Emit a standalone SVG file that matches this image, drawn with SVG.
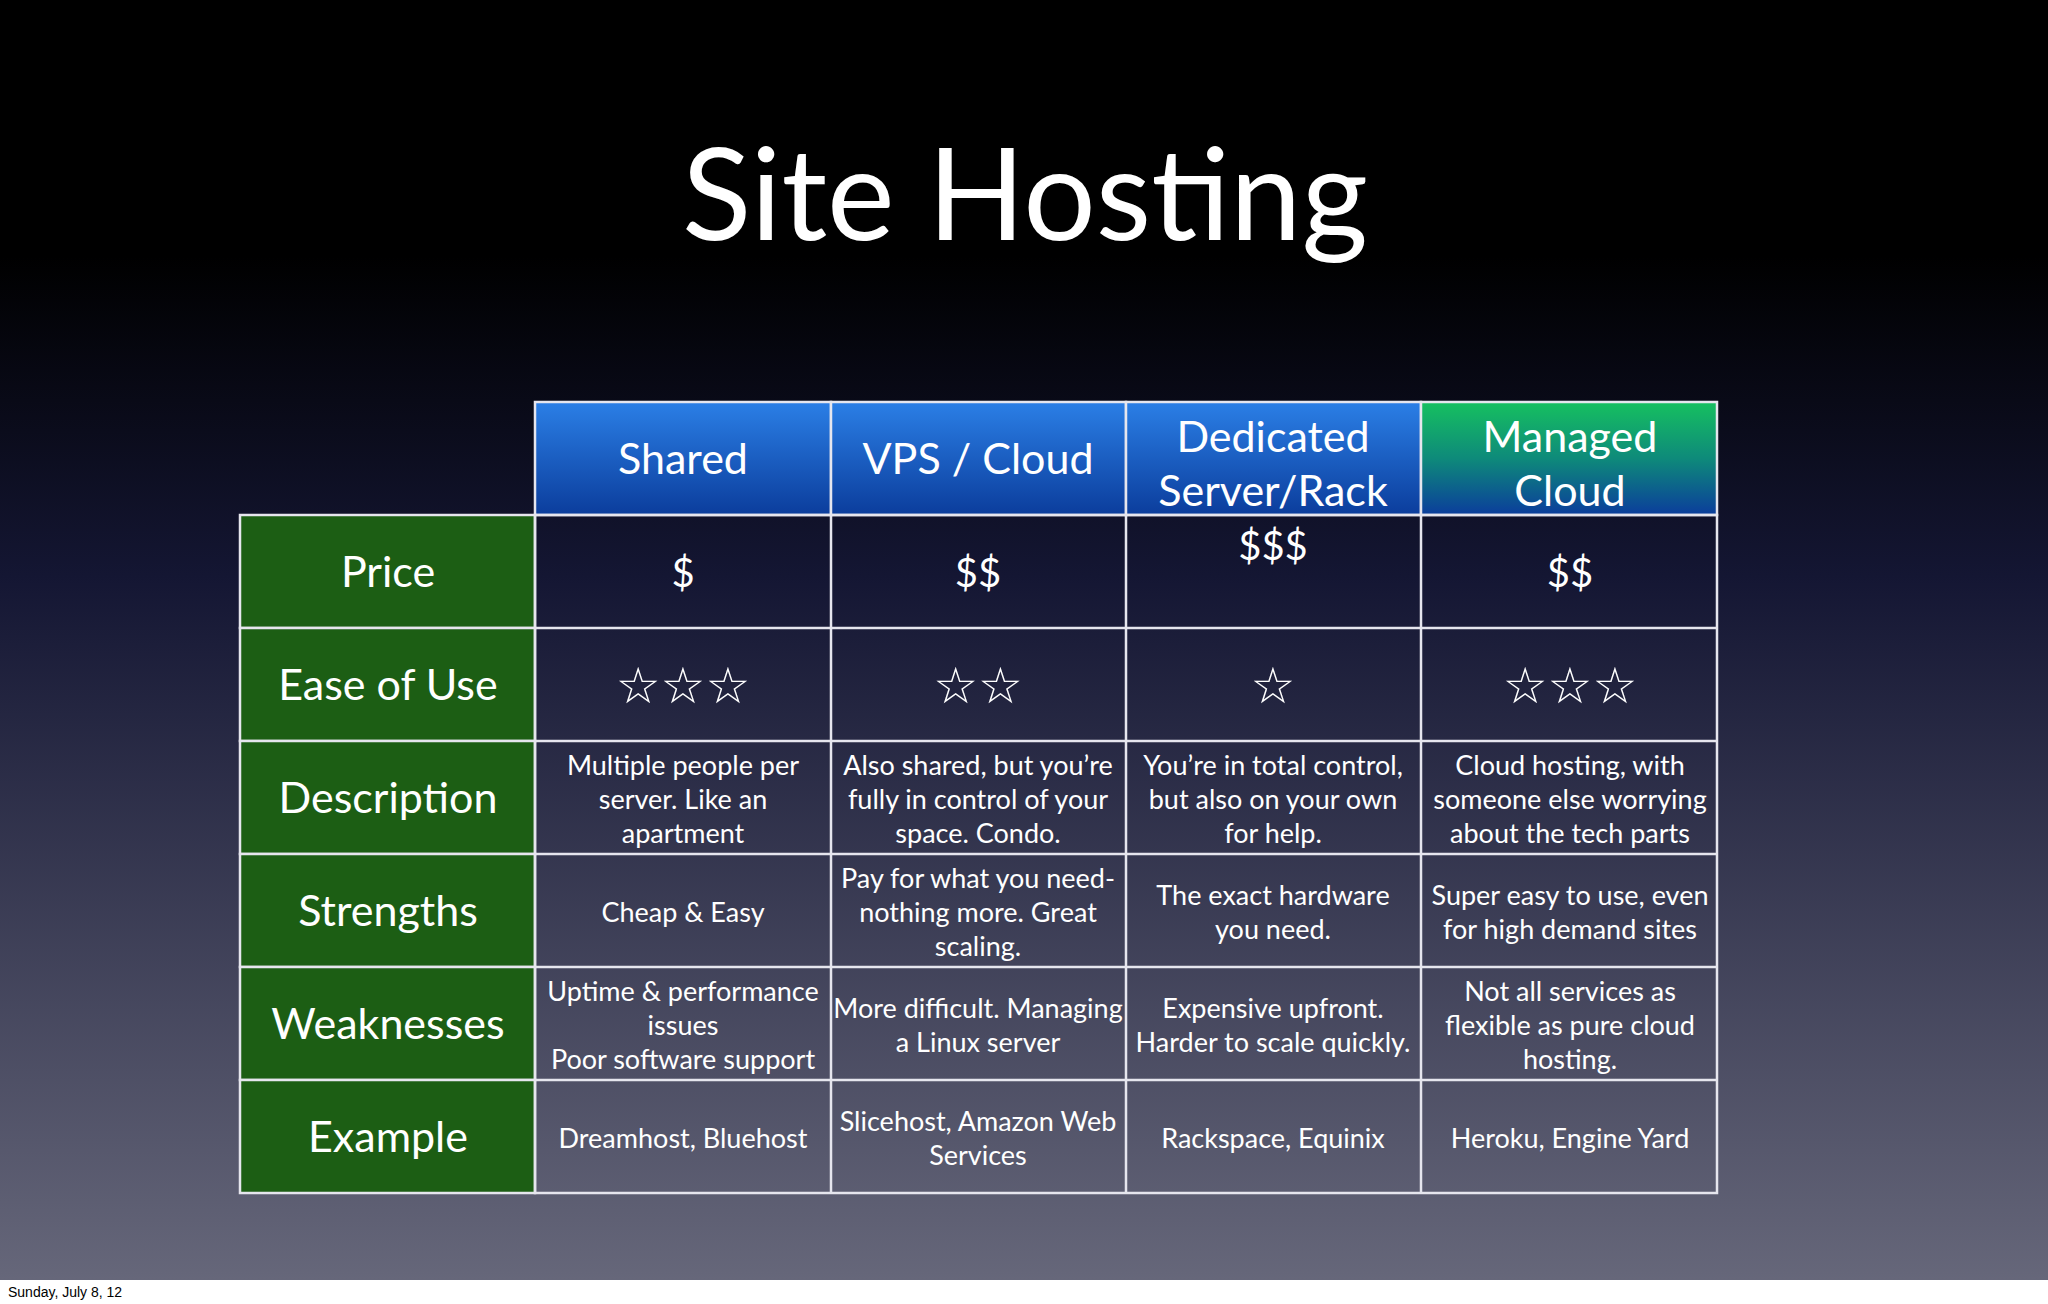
<svg xmlns="http://www.w3.org/2000/svg" width="2048" height="1304" viewBox="0 0 2048 1304">
<defs>
<linearGradient id="bg" x1="0" y1="0" x2="0" y2="1">
<stop offset="0" stop-color="#000"/><stop offset="0.2" stop-color="#000"/><stop offset="0.45" stop-color="#141633"/><stop offset="1" stop-color="#66677a"/>
</linearGradient>
<linearGradient id="hb" x1="0" y1="0" x2="0" y2="1"><stop offset="0" stop-color="#2b7fe6"/><stop offset="1" stop-color="#0b3d9c"/></linearGradient>
<linearGradient id="hg" x1="0" y1="0" x2="0" y2="1"><stop offset="0" stop-color="#16c060"/><stop offset="0.5" stop-color="#0e8a7a"/><stop offset="1" stop-color="#0b3d9c"/></linearGradient>
</defs>
<style>
.c{fill:none;stroke:#e6e6ee;stroke-width:2.5}
.h{stroke:#e6e6ee;stroke-width:2.5}
.l{fill:#1c5e14;stroke:#e6e6ee;stroke-width:2.5}
text{font-family:Lato,"Open Sans","Liberation Sans",sans-serif;fill:#fff;text-anchor:middle}
.t{font-size:27px}
.hd{font-size:43px}
.rl{font-size:43px}
.st{font-family:"DejaVu Sans",sans-serif;font-size:50px}
</style>
<rect width="2048" height="1280" fill="url(#bg)"/>
<rect y="1280" width="2048" height="24" fill="#fff"/>
<text x="8" y="1297" style="font-family:'Liberation Sans',sans-serif;font-size:14px;fill:#000;text-anchor:start">Sunday, July 8, 12</text>
<text x="1025" y="240" style="font-size:128px">Site Hosting</text>
<g id="headers">
<rect class="h" x="535" y="402" width="296" height="113" fill="url(#hb)"/>
<rect class="h" x="831" y="402" width="295" height="113" fill="url(#hb)"/>
<rect class="h" x="1126" y="402" width="295" height="113" fill="url(#hb)"/>
<rect class="h" x="1421" y="402" width="296" height="113" fill="url(#hg)"/>
<text class="hd" x="683" y="474">Shared</text>
<text class="hd" x="978" y="474">VPS / Cloud</text>
<text class="hd" x="1273" y="452">Dedicated</text>
<text class="hd" x="1273" y="506">Server/Rack</text>
<text class="hd" x="1570" y="452">Managed</text>
<text class="hd" x="1570" y="506">Cloud</text>
</g>
<g id="labels">
<rect class="l" x="240" y="515" width="295" height="113"/>
<rect class="l" x="240" y="628" width="295" height="113"/>
<rect class="l" x="240" y="741" width="295" height="113"/>
<rect class="l" x="240" y="854" width="295" height="113"/>
<rect class="l" x="240" y="967" width="295" height="113"/>
<rect class="l" x="240" y="1080" width="295" height="113"/>
<text class="rl" x="388" y="587">Price</text>
<text class="rl" x="388" y="700">Ease of Use</text>
<text class="rl" x="388" y="813">Description</text>
<text class="rl" x="388" y="926">Strengths</text>
<text class="rl" x="388" y="1039">Weaknesses</text>
<text class="rl" x="388" y="1152">Example</text>
</g>
<g id="cells">
<path class="c" d="M535 515H1717V1193H535Z M831 515V1193 M1126 515V1193 M1421 515V1193 M535 628H1717 M535 741H1717 M535 854H1717 M535 967H1717 M535 1080H1717"/>
<text class="hd" x="683" y="587" style="font-size:40px">$</text>
<text class="hd" x="978" y="587" style="font-size:40px">$$</text>
<text class="hd" x="1273" y="560" style="font-size:40px">$$$</text>
<text class="hd" x="1570" y="587" style="font-size:40px">$$</text>
<text class="st" x="683" y="703">☆☆☆</text>
<text class="st" x="978" y="703">☆☆</text>
<text class="st" x="1273" y="703">☆</text>
<text class="st" x="1570" y="703">☆☆☆</text>
<g class="t">
<text x="683" y="775">Multiple people per</text><text x="683" y="809">server. Like an</text><text x="683" y="843">apartment</text>
<text x="978" y="775">Also shared, but you’re</text><text x="978" y="809">fully in control of your</text><text x="978" y="843">space. Condo.</text>
<text x="1273" y="775">You’re in total control,</text><text x="1273" y="809">but also on your own</text><text x="1273" y="843">for help.</text>
<text x="1570" y="775">Cloud hosting, with</text><text x="1570" y="809">someone else worrying</text><text x="1570" y="843">about the tech parts</text>
<text x="683" y="922">Cheap &amp; Easy</text>
<text x="978" y="888">Pay for what you need-</text><text x="978" y="922">nothing more. Great</text><text x="978" y="956">scaling.</text>
<text x="1273" y="905">The exact hardware</text><text x="1273" y="939">you need.</text>
<text x="1570" y="905">Super easy to use, even</text><text x="1570" y="939">for high demand sites</text>
<text x="683" y="1001">Uptime &amp; performance</text><text x="683" y="1035">issues</text><text x="683" y="1069">Poor software support</text>
<text x="978" y="1018">More difficult. Managing</text><text x="978" y="1052">a Linux server</text>
<text x="1273" y="1018">Expensive upfront.</text><text x="1273" y="1052">Harder to scale quickly.</text>
<text x="1570" y="1001">Not all services as</text><text x="1570" y="1035">flexible as pure cloud</text><text x="1570" y="1069">hosting.</text>
<text x="683" y="1148">Dreamhost, Bluehost</text>
<text x="978" y="1131">Slicehost, Amazon Web</text><text x="978" y="1165">Services</text>
<text x="1273" y="1148">Rackspace, Equinix</text>
<text x="1570" y="1148">Heroku, Engine Yard</text>
</g>
</g>
</svg>
